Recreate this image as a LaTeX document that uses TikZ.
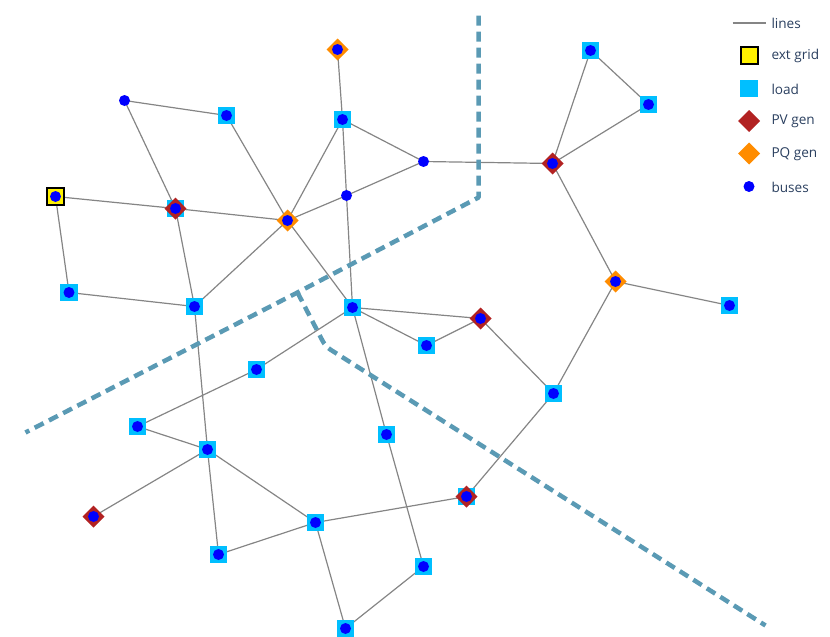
\documentclass[tikz,border=0pt]{standalone}
\usepackage{fontspec}
\setmainfont{Open Sans}
\usetikzlibrary{shapes.geometric,backgrounds}
\definecolor{linegray}{HTML}{858585}
\definecolor{dashblue}{HTML}{5A9AB4}
\definecolor{loadblue}{HTML}{00BFFF}
\definecolor{pvred}{HTML}{B22222}
\definecolor{pqorange}{HTML}{FF8C00}
\definecolor{legendtext}{HTML}{2A3F5F}
\tikzset{
  busdot/.style={circle,fill=blue,draw=none,inner sep=0pt,outer sep=0pt,minimum size=11pt},
  loadbox/.style={rectangle,fill=loadblue,draw=none,inner sep=0pt,outer sep=0pt,minimum size=17.5pt},
  extbox/.style={rectangle,fill=yellow,draw=black,line width=2pt,inner sep=0pt,outer sep=0pt,minimum size=17pt},
  pvmark/.style={diamond,fill=pvred,draw=none,inner sep=0pt,outer sep=0pt,minimum size=22pt},
  pqmark/.style={diamond,fill=pqorange,draw=none,inner sep=0pt,outer sep=0pt,minimum size=22pt},
  grid line/.style={draw=linegray,line width=1.2pt},
  zone line/.style={draw=dashblue,line width=4.5pt,dash pattern=on 10pt off 6pt,line join=round},
  legend label/.style={anchor=west,text=legendtext,font=\fontsize{13.6}{16}\selectfont,inner sep=0pt,outer sep=0pt},
}
\begin{document}
\begin{tikzpicture}[x=1pt,y=-1pt]
\useasboundingbox (-0.5,-0.5) rectangle (829.5,636.5);
% markers under the buses
\node[extbox] (ma) at (55,196) {};
\foreach \n/\p in {b/{175,208},d/{226,115},g/{342,119},j/{68.5,292},k/{194,306},l/{352,307},m/{426,345},p/{590,50},q/{648,104},s/{729,305},t/{553,393},u/{256,369},v/{137,426},w/{207,449},y/{218,554},z/{315,522},aa/{386,434},ab/{466,496},ac/{423,566},ad/{345,628}}
  {\node[loadbox] (load\n) at (\p) {};}
\foreach \n/\p in {b/{175,208},n/{480,318},o/{552,163},x/{93,516},ab/{466,496}}
  {\node[pvmark] (pv\n) at (\p) {};}
\foreach \n/\p in {e/{287,220},f/{337,49},r/{615,281}}
  {\node[pqmark] (pq\n) at (\p) {};}
% buses
\foreach \n/\p in {a/{55,196},b/{175,208},c/{124,100},d/{226,115},e/{287,220},f/{337,49},g/{342,119},h/{423,161},i/{346,195},j/{68.5,292},k/{194,306},l/{352,307},m/{426,345},n/{480,318},o/{552,163},p/{590,50},q/{648,104},r/{615,281},s/{729,305},t/{553,393},u/{256,369},v/{137,426},w/{207,449},x/{93,516},y/{218,554},z/{315,522},aa/{386,434},ab/{466,496},ac/{423,566},ad/{345,628}}
  {\node[busdot] (\n) at (\p) {};}
% zone boundaries and lines
\coordinate (z1) at (478,15);
\coordinate (z2) at (478,197);
\coordinate (z3) at (297,292);
\coordinate (z4) at (25,432);
\coordinate (z5) at (325,346);
\coordinate (z6) at (765,625);
\begin{scope}[on background layer]
  \foreach \s/\t in {a/b,a/j,c/d,c/b,d/e,b/e,b/k,j/k,k/e,e/g,e/i,e/l,f/g,g/h,g/i,i/l,i/h,h/o,o/p,o/q,p/q,o/r,r/s,r/t,n/t,t/ab,l/n,l/m,m/n,l/u,u/v,v/w,k/w,w/x,w/y,w/z,y/z,z/ab,z/ad,ad/ac,ac/aa,aa/l}
    {\draw[grid line] (\s.center) -- (\t.center);}
\end{scope}
\draw[zone line] (z1) -- (z2) -- (z3) -- (z4);
\draw[zone line,rounded corners=6pt] (z3) -- (z5) -- (z6);
% legend
\coordinate (l1) at (732,22.5);
\coordinate (l2) at (765,22.5);
\draw[grid line] (l1) -- (l2);
\node[legend label] (t1) at (771,22.5) {lines};
\node[extbox] (k2) at (748.5,55) {};
\node[legend label] (t2) at (771,55.5) {ext grid};
\node[loadbox] (k3) at (748.5,88) {};
\node[legend label] (t3) at (771,88.5) {load};
\node[pvmark] (k4) at (748.5,120.5) {};
\node[legend label] (t4) at (771,121) {PV gen};
\node[pqmark] (k5) at (748.5,153) {};
\node[legend label] (t5) at (771,153.5) {PQ gen};
\node[busdot] (k6) at (748.5,186) {};
\node[legend label] (t6) at (771,186.5) {buses};
\end{tikzpicture}
\end{document}
